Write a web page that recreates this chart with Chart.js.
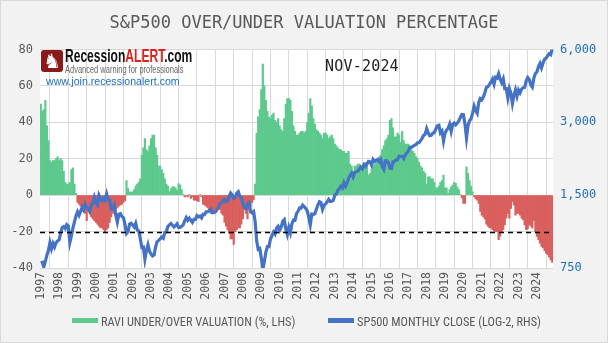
<!DOCTYPE html>
<html>
<head>
<meta charset="utf-8">
<script src="https://cdn.jsdelivr.net/npm/chart.js@4.4.1/dist/chart.umd.min.js"></script>
<style>
  html, body { margin: 0; padding: 0; background: #fff; }
  #wrap { position: relative; width: 608px; height: 343px; }
  #chart1 { position: absolute; left: 0; top: 0; }
  .logo { position: absolute; left: 41px; top: 50px; width: 22px; height: 22px; background: #8b1a1a;
          border-radius: 3px; color: #fff; font: 20px "DejaVu Sans"; line-height: 22px; text-align: center; }
  .brand { position: absolute; left: 65px; top: 46px; font: bold 18px "Liberation Sans"; white-space: nowrap;
           transform: scaleX(0.67); transform-origin: left top; color: #111; }
  .brand span { color: #e0201c; }
  .tag { position: absolute; left: 65px; top: 63px; font: 11px "Liberation Sans"; color: #666; white-space: nowrap;
         transform: scaleX(0.68); transform-origin: left top; }
  .url { position: absolute; left: 46px; top: 75px; font: 10.6px "Liberation Sans"; color: #1f6fc0; white-space: nowrap; }
  .stamp { position: absolute; left: 325px; top: 57px; font: 15px "DejaVu Sans Mono"; color: #222; letter-spacing: 0.2px; }
  .key { position: absolute; top: 314px; font: 12.3px 'Liberation Sans Narrow', 'Roboto Condensed', Roboto, sans-serif;
         color: #595959; white-space: nowrap; line-height: 16px; }
  .key i { display: inline-block; width: 26px; height: 5px; margin-right: 3px; vertical-align: 3px; }
</style>
</head>
<body>
<div id="wrap">
  <canvas id="chart1" width="608" height="343"></canvas>
  <div class="logo">&#9822;</div>
  <div class="brand">Recession<span>ALERT</span>.com</div>
  <div class="tag">Advanced warning for professionals</div>
  <div class="url">www.join.recessionalert.com</div>
  <div class="stamp">NOV-2024</div>
  <div class="key" id="key0" style="left:72px"></div>
  <div class="key" id="key1" style="left:328px"></div>
</div>
<script>
// year tick labels
const years = ["1997","1998","1999","2000","2001","2002","2003","2004","2005","2006","2007","2008","2009","2010",
  "2011","2012","2013","2014","2015","2016","2017","2018","2019","2020","2021","2022","2023","2024"];

// RAVI under/over valuation %, monthly Jan 1997 - Nov 2024 (LHS)
const ravi = [
  50, 46, 47, 52, 38, 30, 19, 18, 19, 19, 20, 21,
  19, 20, 19, 13, 7, 6, 6, 7, 14, 15, 6, 1,
  -4, -5, -6, -8, -9, -10, -14, -9, -10, -12, -13, -14,
  -15, -16, -17, -18, -18, -19, -20, -19, -18, -15, -12, -10,
  -9, -8, -7, -6, -5.5, -5, -4, -3, 8, 3.6, 1.8, 1.5,
  2, 3, 5, 6, 7, 9, 22, 26, 31, 25, 24, 27,
  31, 33, 33, 26, 22, 16, 16, 14, 12, 9, 6, 5,
  2, 3.5, 4.5, 4.5, 4, 2.7, 6.4, 5.5, 3, 0.5, -1, -0.5,
  -1, 0.5, -1.8, -1, -2.7, -2.7, -3, -3.6, 0.5, -1, -5, -5.5,
  -6, -7, -8, -10, -10, -9, -9, -8, -7, -8, -10, -11,
  -15, -17, -19, -21, -24, -24, -27, -20, -19, -18, -18, -16,
  -13, -8, -10, -13, -8, -6, -4, -2.5, 6, 34, 43, 47,
  58, 72, 60, 52, 46, 43, 42, 44, 45, 41, 40, 42,
  38, 36, 35, 42, 50, 53, 53, 52, 46, 38, 35, 33,
  33, 34, 35, 35, 34, 35, 40, 45, 53, 49, 42, 39,
  36, 35, 34, 33, 31, 34, 34, 33, 31, 32, 33, 31,
  28, 27, 26, 25, 25, 24, 24, 23, 23, 24, 17, 16,
  13, 16, 16, 17, 17, 16, 15, 16, 18, 18, 11, 12,
  14, 16, 17, 18, 19, 21, 22, 25, 27, 30, 31, 33,
  41, 42, 37, 32, 32, 34, 33, 29, 35, 30, 28, 28,
  28, 27, 25, 24, 23, 21, 20, 18, 16, 15, 13, 12,
  6, 10, 10, 9, 9, 7, 4, 4, 5, 7, 8, 11,
  4, 4, 1, 3, 4.5, 5.5, 7, 6.5, 4.5, 3, 0.5, -1.5,
  -4.5, -4.5, 15.5, 12, 8, 5, 1.8, -1, -2, -2.7, -4.5, -9,
  -11, -12, -13, -16, -17, -18, -18, -19, -19.6, -20, -20, -24.5,
  -22.7, -20, -19, -16.4, -12.7, -10, -12.7, -7.3, -3.6, -5.5, -11, -10,
  -10, -11, -12.7, -13.6, -16.4, -19, -18.5, -16.4, -17, -18.2, -14, -20,
  -22.7, -24.5, -26.4, -28.2, -29, -30.5, -31.8, -32.7, -34, -35.5, -37
];

// S&P500 monthly close (RHS, log-2)
const sp500 = [
  786, 791, 757, 801, 848, 885, 954, 900, 947, 915, 955, 970,
  980, 1049, 1102, 1112, 1091, 1134, 1121, 957, 1017, 1099, 1164, 1229,
  1280, 1238, 1286, 1335, 1302, 1373, 1329, 1320, 1283, 1363, 1389, 1469,
  1395, 1366, 1499, 1452, 1421, 1455, 1431, 1518, 1437, 1429, 1315, 1320,
  1366, 1240, 1160, 1250, 1256, 1224, 1211, 1134, 1041, 1060, 1140, 1148,
  1130, 1107, 1147, 1077, 1067, 990, 912, 916, 815, 886, 936, 880,
  856, 841, 848, 917, 964, 975, 990, 1008, 996, 1051, 1058, 1112,
  1131, 1145, 1126, 1107, 1121, 1141, 1102, 1104, 1115, 1130, 1174, 1212,
  1181, 1204, 1181, 1157, 1192, 1191, 1234, 1220, 1229, 1207, 1250, 1248,
  1280, 1281, 1295, 1311, 1270, 1270, 1277, 1304, 1336, 1378, 1401, 1418,
  1438, 1407, 1421, 1482, 1531, 1503, 1455, 1474, 1527, 1549, 1481, 1468,
  1379, 1331, 1323, 1386, 1400, 1280, 1267, 1283, 1166, 969, 896, 903,
  826, 735, 798, 873, 919, 919, 988, 1021, 1057, 1036, 1096, 1115,
  1074, 1105, 1169, 1187, 1089, 1031, 1102, 1049, 1141, 1183, 1181, 1258,
  1286, 1327, 1326, 1364, 1345, 1321, 1292, 1219, 1131, 1253, 1247, 1258,
  1312, 1366, 1409, 1398, 1310, 1362, 1379, 1407, 1441, 1412, 1416, 1426,
  1498, 1515, 1569, 1598, 1631, 1606, 1686, 1633, 1682, 1757, 1806, 1848,
  1783, 1860, 1872, 1884, 1924, 1960, 1931, 2003, 1972, 2018, 2068, 2059,
  1995, 2105, 2068, 2086, 2107, 2063, 2104, 1972, 1920, 2079, 2080, 2044,
  1940, 1932, 2060, 2065, 2097, 2099, 2174, 2171, 2168, 2126, 2199, 2239,
  2279, 2364, 2363, 2384, 2412, 2423, 2470, 2472, 2519, 2575, 2648, 2674,
  2824, 2714, 2641, 2648, 2705, 2718, 2816, 2902, 2914, 2712, 2760, 2507,
  2704, 2785, 2834, 2946, 2752, 2942, 2980, 2927, 2977, 3038, 3141, 3231,
  3226, 2954, 2585, 2912, 3044, 3100, 3271, 3500, 3363, 3270, 3622, 3756,
  3714, 3811, 3973, 4181, 4204, 4298, 4395, 4523, 4308, 4605, 4567, 4766,
  4516, 4374, 4530, 4132, 4132, 3785, 4130, 3955, 3586, 3872, 4080, 3840,
  4077, 3970, 4109, 4170, 4180, 4450, 4589, 4508, 4288, 4194, 4568, 4770,
  4846, 5096, 5254, 5036, 5278, 5461, 5522, 5648, 5763, 5706, 6032
];

const rhsTicks = [750, 1500, 3000, 6000];
const refLevel = -20;

const months = [];
years.forEach(y => { for (let m = 1; m <= 12; m++) months.push(y + "-" + String(m).padStart(2, "0")); });
months.length = ravi.length;

const green = "#5dc98c", red = "#d95f5d", blue = "#4472c4";
const mono = "'DejaVu Sans Mono', monospace";

const backdrop = {
  id: "backdrop",
  beforeDraw(chart) {
    const { ctx, chartArea: a } = chart;
    ctx.save();
    ctx.fillStyle = "#f2f2f2";
    ctx.fillRect(0, 0, chart.width, chart.height);
    ctx.fillStyle = "#ffffff";
    ctx.fillRect(a.left, a.top, a.right - a.left, a.bottom - a.top);
    ctx.strokeStyle = "#d9d9d9";
    ctx.lineWidth = 1;
    ctx.strokeRect(0.5, 0.5, chart.width - 1, chart.height - 1);
    ctx.restore();
  },
  afterDatasetsDraw(chart) {
    const { ctx, chartArea: a } = chart;
    const y = Math.round(chart.scales.y.getPixelForValue(refLevel)) + 0.5;
    ctx.save();
    ctx.strokeStyle = "#000";
    ctx.lineWidth = 1.3;
    ctx.setLineDash([5, 4]);
    ctx.beginPath();
    ctx.moveTo(a.left, y);
    ctx.lineTo(a.right, y);
    ctx.stroke();
    ctx.restore();
  }
};

const chart = new Chart(document.getElementById("chart1"), {
  type: "bar",
  data: {
    labels: months,
    datasets: [{
        type: "bar",
        data: ravi,
        label: "RAVI UNDER/OVER VALUATION (%, LHS)",
        backgroundColor: ctx => (ctx.raw < 0 ? red : green),
        borderWidth: 0,
        barPercentage: 1,
        categoryPercentage: 1,
        yAxisID: "y",
        order: 2
      }, {
        type: "line",
        data: sp500,
        label: "SP500 MONTHLY CLOSE (LOG-2, RHS)",
        borderColor: blue,
        backgroundColor: blue,
        borderWidth: 3.2,
        pointRadius: 0,
        tension: 0,
        fill: false,
        yAxisID: "y1",
        order: 1
      }
    ]
  },
  plugins: [backdrop],
  options: {
    responsive: false,
    animation: false,
    layout: { padding: { top: 0, right: 0, bottom: 35, left: 0 } },
    plugins: {
      title: {
        display: true,
        text: "S&P500 OVER/UNDER VALUATION PERCENTAGE",
        color: "#595959",
        font: { family: mono, size: 17, weight: "normal" },
        padding: { top: 13, bottom: 16 }
      },
      legend: { display: false },
      tooltip: { enabled: false }
    },
    scales: {
      x: {
        offset: true,
        grid: { color: "#d9d9d9", offset: true, drawTicks: false },
        border: { display: false },
        ticks: {
          autoSkip: false,
          maxRotation: 90,
          minRotation: 90,
          padding: 4,
          color: "#595959",
          font: { family: mono, size: 11.5 },
          callback: (v, i) => (i % 12 === 0 ? years[i / 12] : null)
        },
        afterFit: s => { s.height = 40; }
      },
      y: {
        position: "left",
        min: -40,
        max: 80,
        ticks: { stepSize: 20, color: "#595959", padding: 7, font: { family: mono, size: 12 } },
        grid: { color: "#d9d9d9", drawTicks: false },
        border: { display: false },
        afterFit: s => { s.width = 40; }
      },
      y1: {
        type: "logarithmic",
        position: "right",
        min: 750,
        max: 6000,
        afterBuildTicks: s => { s.ticks = rhsTicks.map(v => ({ value: v })); },
        ticks: {
          color: "#1f6fc0",
          padding: 7,
          font: { family: mono, size: 12 },
          callback: v => Number(v).toLocaleString("en-US")
        },
        grid: { display: false, drawTicks: false },
        border: { display: false },
        afterFit: s => { s.width = 55; }
      }
    }
  }
});

// legend keys from the datasets
chart.data.datasets.forEach((ds, k) => {
  const el = document.getElementById("key" + k);
  const sw = document.createElement("i");
  sw.style.background = k === 0 ? green : ds.borderColor;
  el.appendChild(sw);
  el.appendChild(document.createTextNode(ds.label));
});
</script>
</body>
</html>
